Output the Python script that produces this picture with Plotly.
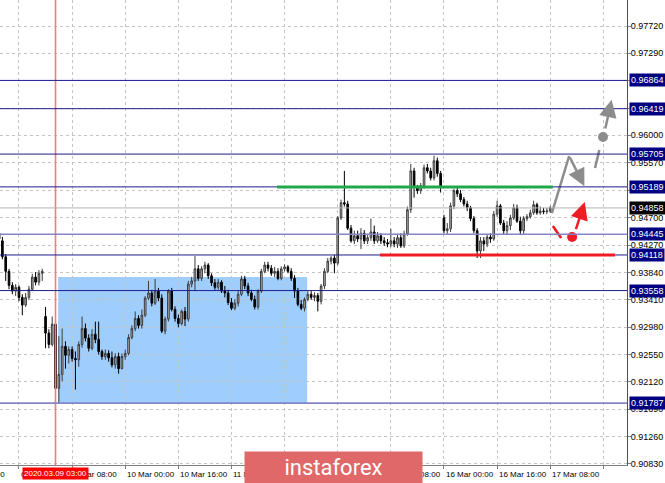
import plotly.graph_objects as go

# ---------------- data (H1 bars, index 0 = 6 Mar 16:00) ----------------
bar_index = list(range(-6, 161))

open_ = [0.9446, 0.9434, 0.9409, 0.9386, 0.9364, 0.9355, 0.9361, 0.9345, 0.9333, 0.9345,
         0.9358, 0.9377, 0.9369, 0.9383, 0.9315, 0.9289, 0.9271, 0.9303, 0.9202, 0.9224,
         0.9268, 0.9254, 0.9263, 0.9249, 0.9247, 0.9271, 0.9296, 0.9281, 0.9265, 0.9287,
         0.9279, 0.9260, 0.9252, 0.9257, 0.9250, 0.9239, 0.9252, 0.9233, 0.9252, 0.9257,
         0.9282, 0.9296, 0.9312, 0.9301, 0.9317, 0.9344, 0.9352, 0.9336, 0.9355, 0.9344,
         0.9292, 0.9311, 0.9355, 0.9326, 0.9312, 0.9304, 0.9323, 0.9311, 0.9366, 0.9371,
         0.9390, 0.9375, 0.9390, 0.9396, 0.9379, 0.9368, 0.9361, 0.9369, 0.9355, 0.9352,
         0.9337, 0.9328, 0.9336, 0.9350, 0.9374, 0.9363, 0.9352, 0.9342, 0.9330, 0.9355,
         0.9386, 0.9396, 0.9391, 0.9383, 0.9386, 0.9375, 0.9390, 0.9393, 0.9386, 0.9375,
         0.9355, 0.9334, 0.9328, 0.9342, 0.9350, 0.9345, 0.9348, 0.9339, 0.9363, 0.9386,
         0.9402, 0.9407, 0.9399, 0.9470, 0.9494, 0.9492, 0.9454, 0.9434, 0.9442, 0.9437,
         0.9446, 0.9434, 0.9439, 0.9448, 0.9434, 0.9442, 0.9434, 0.9431, 0.9429, 0.9434,
         0.9429, 0.9439, 0.9426, 0.9445, 0.9483, 0.9544, 0.9518, 0.9513, 0.9521, 0.9549,
         0.9544, 0.9533, 0.9560, 0.9540, 0.9470, 0.9450, 0.9453, 0.9489, 0.9513, 0.9508,
         0.9499, 0.9492, 0.9486, 0.9469, 0.9450, 0.9418, 0.9434, 0.9429, 0.9440, 0.9437,
         0.9476, 0.9489, 0.9462, 0.9450, 0.9458, 0.9470, 0.9486, 0.9465, 0.9450, 0.9469,
         0.9472, 0.9478, 0.9491, 0.9478, 0.9481, 0.9480, 0.9481]

high = [0.9453, 0.9440, 0.9413, 0.9390, 0.9369, 0.9366, 0.9364, 0.9350, 0.9352, 0.9363,
        0.9382, 0.9385, 0.9388, 0.9390, 0.9330, 0.9295, 0.9315, 0.9304, 0.9284, 0.9296,
        0.9276, 0.9268, 0.9268, 0.9260, 0.9276, 0.9315, 0.9304, 0.9287, 0.9295, 0.9307,
        0.9307, 0.9263, 0.9263, 0.9262, 0.9260, 0.9257, 0.9258, 0.9257, 0.9263, 0.9287,
        0.9301, 0.9323, 0.9317, 0.9326, 0.9347, 0.9371, 0.9357, 0.9374, 0.9360, 0.9350,
        0.9315, 0.9358, 0.9360, 0.9331, 0.9318, 0.9326, 0.9330, 0.9371, 0.9377, 0.9410,
        0.9396, 0.9394, 0.9401, 0.9399, 0.9383, 0.9374, 0.9374, 0.9372, 0.9363, 0.9357,
        0.9344, 0.9342, 0.9355, 0.9379, 0.9379, 0.9368, 0.9357, 0.9348, 0.9358, 0.9390,
        0.9401, 0.9401, 0.9396, 0.9393, 0.9391, 0.9394, 0.9397, 0.9396, 0.9391, 0.9380,
        0.9360, 0.9341, 0.9345, 0.9355, 0.9355, 0.9353, 0.9352, 0.9366, 0.9391, 0.9407,
        0.9410, 0.9412, 0.9473, 0.9499, 0.9544, 0.9497, 0.9459, 0.9450, 0.9450, 0.9454,
        0.9451, 0.9443, 0.9469, 0.9458, 0.9448, 0.9446, 0.9440, 0.9437, 0.9453, 0.9440,
        0.9445, 0.9446, 0.9450, 0.9488, 0.9555, 0.9549, 0.9522, 0.9525, 0.9554, 0.9555,
        0.9549, 0.9568, 0.9565, 0.9544, 0.9475, 0.9462, 0.9494, 0.9516, 0.9519, 0.9514,
        0.9503, 0.9497, 0.9489, 0.9473, 0.9454, 0.9440, 0.9440, 0.9445, 0.9446, 0.9481,
        0.9497, 0.9492, 0.9467, 0.9465, 0.9475, 0.9492, 0.9491, 0.9472, 0.9473, 0.9476,
        0.9483, 0.9497, 0.9494, 0.9488, 0.9486, 0.9486, 0.9489]

low = [0.9431, 0.9405, 0.9371, 0.9358, 0.9350, 0.9347, 0.9339, 0.9317, 0.9330, 0.9341,
       0.9355, 0.9364, 0.9364, 0.9371, 0.9265, 0.9265, 0.9268, 0.9200, 0.9179, 0.9213,
       0.9233, 0.9241, 0.9244, 0.9200, 0.9236, 0.9266, 0.9276, 0.9260, 0.9262, 0.9273,
       0.9255, 0.9247, 0.9247, 0.9244, 0.9235, 0.9233, 0.9225, 0.9232, 0.9247, 0.9254,
       0.9279, 0.9292, 0.9296, 0.9296, 0.9314, 0.9341, 0.9331, 0.9333, 0.9339, 0.9289,
       0.9287, 0.9307, 0.9323, 0.9307, 0.9298, 0.9301, 0.9300, 0.9307, 0.9361, 0.9355,
       0.9371, 0.9371, 0.9383, 0.9374, 0.9363, 0.9357, 0.9357, 0.9352, 0.9345, 0.9333,
       0.9325, 0.9325, 0.9331, 0.9347, 0.9358, 0.9347, 0.9339, 0.9326, 0.9326, 0.9352,
       0.9383, 0.9386, 0.9379, 0.9377, 0.9372, 0.9372, 0.9386, 0.9383, 0.9371, 0.9344,
       0.9331, 0.9325, 0.9323, 0.9339, 0.9341, 0.9339, 0.9323, 0.9334, 0.9358, 0.9383,
       0.9397, 0.9383, 0.9396, 0.9467, 0.9488, 0.9451, 0.9431, 0.9429, 0.9432, 0.9421,
       0.9429, 0.9429, 0.9434, 0.9429, 0.9431, 0.9429, 0.9426, 0.9424, 0.9424, 0.9424,
       0.9423, 0.9423, 0.9423, 0.9442, 0.9478, 0.9502, 0.9508, 0.9508, 0.9516, 0.9540,
       0.9529, 0.9529, 0.9535, 0.9510, 0.9446, 0.9445, 0.9448, 0.9484, 0.9503, 0.9495,
       0.9488, 0.9481, 0.9465, 0.9446, 0.9407, 0.9407, 0.9418, 0.9424, 0.9431, 0.9434,
       0.9472, 0.9459, 0.9445, 0.9443, 0.9451, 0.9467, 0.9462, 0.9443, 0.9445, 0.9465,
       0.9469, 0.9475, 0.9475, 0.9475, 0.9476, 0.9476, 0.9478]

close = [0.9437, 0.9409, 0.9386, 0.9364, 0.9355, 0.9361, 0.9345, 0.9333, 0.9345, 0.9358,
         0.9377, 0.9369, 0.9383, 0.9386, 0.9289, 0.9271, 0.9303, 0.9202, 0.9224, 0.9268,
         0.9254, 0.9263, 0.9249, 0.9247, 0.9271, 0.9296, 0.9281, 0.9265, 0.9287, 0.9279,
         0.9260, 0.9252, 0.9257, 0.9250, 0.9239, 0.9252, 0.9233, 0.9252, 0.9257, 0.9282,
         0.9296, 0.9312, 0.9301, 0.9317, 0.9344, 0.9352, 0.9336, 0.9355, 0.9344, 0.9292,
         0.9311, 0.9355, 0.9326, 0.9312, 0.9304, 0.9323, 0.9311, 0.9366, 0.9371, 0.9390,
         0.9375, 0.9390, 0.9396, 0.9379, 0.9368, 0.9361, 0.9369, 0.9355, 0.9352, 0.9337,
         0.9328, 0.9336, 0.9350, 0.9374, 0.9363, 0.9352, 0.9342, 0.9330, 0.9355, 0.9386,
         0.9396, 0.9391, 0.9383, 0.9386, 0.9375, 0.9390, 0.9393, 0.9386, 0.9375, 0.9355,
         0.9334, 0.9328, 0.9342, 0.9350, 0.9345, 0.9348, 0.9339, 0.9363, 0.9386, 0.9402,
         0.9407, 0.9399, 0.9470, 0.9494, 0.9492, 0.9454, 0.9434, 0.9442, 0.9437, 0.9446,
         0.9434, 0.9439, 0.9448, 0.9434, 0.9442, 0.9434, 0.9431, 0.9429, 0.9434, 0.9429,
         0.9439, 0.9426, 0.9445, 0.9483, 0.9544, 0.9518, 0.9513, 0.9521, 0.9549, 0.9544,
         0.9533, 0.9560, 0.9540, 0.9518, 0.9450, 0.9453, 0.9489, 0.9513, 0.9508, 0.9499,
         0.9492, 0.9486, 0.9469, 0.9450, 0.9418, 0.9434, 0.9429, 0.9440, 0.9437, 0.9476,
         0.9489, 0.9462, 0.9450, 0.9458, 0.9470, 0.9486, 0.9465, 0.9450, 0.9469, 0.9472,
         0.9478, 0.9491, 0.9478, 0.9481, 0.9480, 0.9481, 0.9486]

# price axis
ytick_vals = [0.97720, 0.97290, 0.96860, 0.96430, 0.96000, 0.95570, 0.95135, 0.94700,
              0.94270, 0.93840, 0.93410, 0.92980, 0.92550, 0.92120, 0.91690, 0.91260, 0.90830]
ytick_text = ["0.97720", "0.97290", "0.96860", "0.96430", "0.96000", "0.95570", "0.95130",
              "0.94700", "0.94270", "0.93840", "0.93410", "0.92980", "0.92550", "0.92120",
              "0.91690", "0.91260", "0.90830"]
y_range = [0.90814, 0.98129]

# time axis (bar index, every 16 bars)
xtick_bars = [0, 16, 32, 48, 64, 80, 96, 112, 128, 144, 160, 176]
xtick_text = ["6 Mar 16:00", "9 Mar 08:00", "10 Mar 00:00", "10 Mar 16:00",
              "11 Mar 08:00", "12 Mar 00:00", "12 Mar 16:00", "13 Mar 08:00", "16 Mar 00:00",
              "16 Mar 16:00", "17 Mar 08:00", ""]
edge_label = "6 Mar 00:00"      # label of bar -16, mostly left of the visible window
edge_label_end_bar = -3.6
x_range = [-5.72, 183.13]

# horizontal levels
level_prices = [0.96864, 0.96419, 0.95705, 0.95189, 0.94445, 0.94118, 0.93558, 0.91787]
level_labels = ["0.96864", "0.96419", "0.95705", "0.95189", "0.94445", "0.94118", "0.93558", "0.91787"]
level_soft = [False, False, False, False, True, False, False, True]
current_price = 0.94858
current_label = "0.94858"

# vertical marker
marker_bar = 11
marker_label = "2020.03.09 03:00"

# rectangle zone
zone_bars = [11.8, 86.8]
zone_prices = [0.91787, 0.93772]

# support / resistance segments
green_bars = [77.7, 160.8]
green_price = 0.95189
red_bars = [108.7, 179.5]
red_price = 0.94118

# forecast arrows (bar, price)
gray_leg1_bars = [160.5, 165.7]
gray_leg1_prices = [0.94778, 0.95675]
gray_leg2 = (165.7, 0.95675, 170.3, 0.95200)
gray_dash_bars = [173.5, 174.8]
gray_dash_prices = [0.95486, 0.95770]
gray_dot = (175.9, 0.95974)
gray_up = (176.5, 0.96084, 178.5, 0.96560)
red_dash_bars = [160.8, 163.3]
red_dash_prices = [0.94574, 0.94385]
red_dot = (166.6, 0.94401)
red_up = (167.6, 0.94500, 170.4, 0.94950)

FONT = "Liberation Sans, Arial, sans-serif"
NAVY = "#1c1c8e"
SOFT = "#8585c6"
GRAY = "#8c8c8c"
RED = "#ee1c25"

fig = go.Figure()

fig.add_trace(go.Candlestick(
    x=bar_index, open=open_, high=high, low=low, close=close,
    increasing=dict(fillcolor="#b9b9b9", line=dict(color="#3c3c3c", width=1)),
    decreasing=dict(fillcolor="#000000", line=dict(color="#000000", width=1)),
    whiskerwidth=0, showlegend=False, hoverinfo="skip"))

shapes = []
shapes.append(dict(type="rect", xref="x", yref="y", x0=zone_bars[0], x1=zone_bars[1],
                   y0=zone_prices[0], y1=zone_prices[1], fillcolor="#9fcdfc",
                   line=dict(width=0), layer="below"))
shapes.append(dict(type="line", xref="x", yref="paper", x0=marker_bar, x1=marker_bar,
                   y0=0, y1=1, line=dict(color="#f47c7c", width=1.6), layer="above"))
shapes.append(dict(type="line", xref="paper", yref="y", x0=0, x1=1,
                   y0=current_price, y1=current_price, line=dict(color="#b4b4b4", width=1)))
for p, soft in zip(level_prices, level_soft):
    shapes.append(dict(type="line", xref="paper", yref="y", x0=0, x1=1, y0=p, y1=p,
                       line=dict(color=SOFT if soft else NAVY, width=1.6 if soft else 1)))
shapes.append(dict(type="line", xref="x", yref="y", x0=green_bars[0], x1=green_bars[1],
                   y0=green_price, y1=green_price, line=dict(color="#22a84a", width=3)))
shapes.append(dict(type="line", xref="x", yref="y", x0=red_bars[0], x1=red_bars[1],
                   y0=red_price, y1=red_price, line=dict(color=RED, width=3)))

fig.add_trace(go.Scatter(x=gray_leg1_bars, y=gray_leg1_prices, mode="lines",
                         line=dict(color=GRAY, width=2.5), showlegend=False, hoverinfo="skip"))
fig.add_trace(go.Scatter(x=gray_dash_bars, y=gray_dash_prices, mode="lines",
                         line=dict(color=GRAY, width=2.5), showlegend=False, hoverinfo="skip"))
fig.add_trace(go.Scatter(x=[gray_dot[0]], y=[gray_dot[1]], mode="markers",
                         marker=dict(color=GRAY, size=10), showlegend=False, hoverinfo="skip"))
fig.add_trace(go.Scatter(x=red_dash_bars, y=red_dash_prices, mode="lines",
                         line=dict(color=RED, width=2.5), showlegend=False, hoverinfo="skip"))
fig.add_trace(go.Scatter(x=[red_dot[0]], y=[red_dot[1]], mode="markers",
                         marker=dict(color=RED, size=10), showlegend=False, hoverinfo="skip"))

ann = []
for (x0, y0, x1, y1), col in [(gray_leg2, GRAY), (gray_up, GRAY), (red_up, RED)]:
    ann.append(dict(x=x1, y=y1, ax=x0, ay=y0, xref="x", yref="y", axref="x", ayref="y",
                    showarrow=True, arrowhead=2, arrowsize=1.4, arrowwidth=2.5,
                    arrowcolor=col, text=""))

LBL = dict(family=FONT, size=8, color="#000000")
ann.append(dict(x=edge_label_end_bar, y=0, xref="x", yref="paper", xanchor="right",
                yanchor="top", yshift=-3, text=edge_label, showarrow=False, font=LBL))
for b, t in zip(xtick_bars, xtick_text):
    if t:
        ann.append(dict(x=b, y=0, xref="x", yref="paper", xanchor="left", yanchor="top",
                        xshift=0, yshift=-3, text=t, showarrow=False, font=LBL))
ann.append(dict(x=marker_bar, y=0, xref="x", yref="paper", xanchor="center", yanchor="top",
                yshift=-2, text=marker_label, showarrow=False, bgcolor="#ff0000", borderpad=1,
                font=dict(family=FONT, size=8, color="#ffffff")))

for p, t in zip(level_prices, level_labels):
    ann.append(dict(x=1, y=p, xref="paper", yref="y", xanchor="left", yanchor="middle",
                    xshift=2, text=t, showarrow=False, bgcolor="#000080", borderpad=1,
                    font=dict(family=FONT, size=9, color="#ffffff")))
ann.append(dict(x=1, y=current_price, xref="paper", yref="y", xanchor="left", yanchor="middle",
                xshift=2, text=current_label, showarrow=False, bgcolor="#000000", borderpad=1,
                font=dict(family=FONT, size=9, color="#ffffff")))

# instaforex watermark banner (drawn last, on top of the time labels)
ann.append(dict(x=333.5 / 627, y=-2.5 / 465, xref="paper", yref="paper", xanchor="center",
                yanchor="middle", text="instaforex", showarrow=False, width=177, height=31,
                bgcolor="#e06868", borderpad=0, align="center", valign="middle",
                font=dict(family="Roboto, sans-serif", size=22, color="#ffffff")))

fig.update_layout(
    width=665, height=483, margin=dict(l=0, r=38, t=0, b=18),
    paper_bgcolor="#ffffff", plot_bgcolor="#ffffff",
    shapes=shapes, annotations=ann, showlegend=False,
    xaxis=dict(range=x_range, tickvals=xtick_bars, ticktext=["" for _ in xtick_bars],
               ticks="outside", ticklen=3,
               tickcolor="#808080", showline=True, linecolor="#808080", linewidth=1,
               showgrid=True, gridcolor="#c4c4c4", griddash="3px,3px", gridwidth=1,
               zeroline=False, rangeslider=dict(visible=False), fixedrange=True),
    yaxis=dict(range=y_range, side="right", tickvals=ytick_vals, ticktext=ytick_text,
               ticks="outside", ticklen=3, tickcolor="#808080", showline=True,
               linecolor="#505050", linewidth=1, showgrid=True, gridcolor="#c4c4c4",
               griddash="3px,3px", gridwidth=1, zeroline=False, fixedrange=True,
               ticklabelstandoff=-2,
               tickfont=dict(family=FONT, size=9, color="#000000")),
)

fig.write_html("out.html", config={"displayModeBar": False},
               post_script="document.body.style.margin='0';document.body.style.overflow='hidden';")
